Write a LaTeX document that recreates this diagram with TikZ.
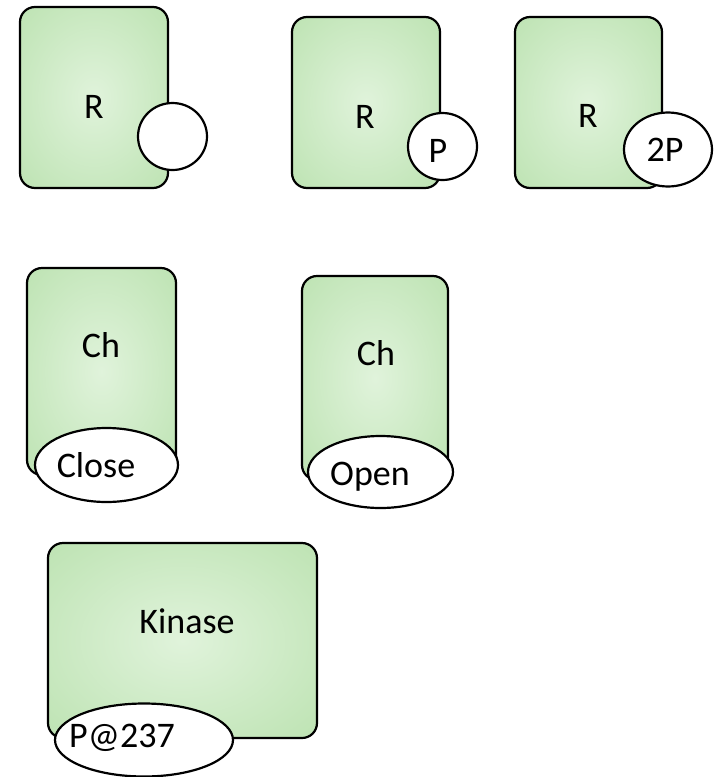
\documentclass[tikz,border=0pt]{standalone}
\usepackage{fontspec}
\setmainfont{Carlito}
\usetikzlibrary{shapes.geometric}
\definecolor{glowin}{HTML}{E0F3DB}
\definecolor{glowout}{HTML}{BBE2B0}
\pgfdeclareradialshading{glow}{\pgfpoint{0bp}{0bp}}{color(0bp)=(glowin); color(38bp)=(glowout); color(50bp)=(glowout)}
\begin{document}
\begin{tikzpicture}[x=1pt, y=-1pt,
    protein/.style={rectangle, draw=black, line width=2.2pt, rounded corners=15pt, shading=glow},
    site/.style={ellipse, draw=black, line width=2.2pt, fill=white, inner sep=0pt},
    txt/.style={anchor=base, inner sep=0pt, font=\fontsize{36}{40}\selectfont}]
    \useasboundingbox (0,0) rectangle (713,777);
    % Receptors with their sites
    \foreach \m/\x/\y/\w/\h in {1/94/97.5/148/181, 2/366/102.5/148/171, 3/588.5/102.5/147/171}
        \node [protein, minimum width=\w, minimum height=\h] (rec-\m) at (\x,\y) {};
    \node [site, minimum width=69, minimum height=67] (site-1) at (172.5,136.5) {};
    \node [site, minimum width=69, minimum height=67] (site-2) at (442.5,146.5) {};
    \node [site, minimum width=88, minimum height=74] (site-3) at (668,149.5) {};
    \node [txt] (rlabel-1) at (94,118) {R};
    \node [txt] (rlabel-2) at (365,128) {R};
    \node [txt] (rlabel-3) at (588,127) {R};
    \node [txt] (plabel-2) at (438,162) {P};
    \node [txt] (plabel-3) at (665,161) {2P};
    % Channels
    \node [protein, minimum width=149, minimum height=207] (chan-1) at (101.5,371.5) {};
    \node [protein, minimum width=146, minimum height=204] (chan-2) at (375,378) {};
    \node [site, minimum width=143, minimum height=74] (gate-1) at (106.5,465) {};
    \node [site, minimum width=145, minimum height=72] (gate-2) at (380.5,472) {};
    \node [txt] (clabel-1) at (101,357) {Ch};
    \node [txt] (clabel-2) at (376,365) {Ch};
    \node [txt] (glabel-1) at (96,477) {Close};
    \node [txt] (glabel-2) at (370,485) {Open};
    % Kinase
    \node [protein, minimum width=269, minimum height=195] (kinase) at (182.5,640.5) {};
    \node [site, minimum width=178, minimum height=73] (ksite) at (144,740) {};
    \node [txt] (klabel) at (187,633) {Kinase};
    \node [txt] (kslabel) at (122,747) {P@237};
\end{tikzpicture}
\end{document}
